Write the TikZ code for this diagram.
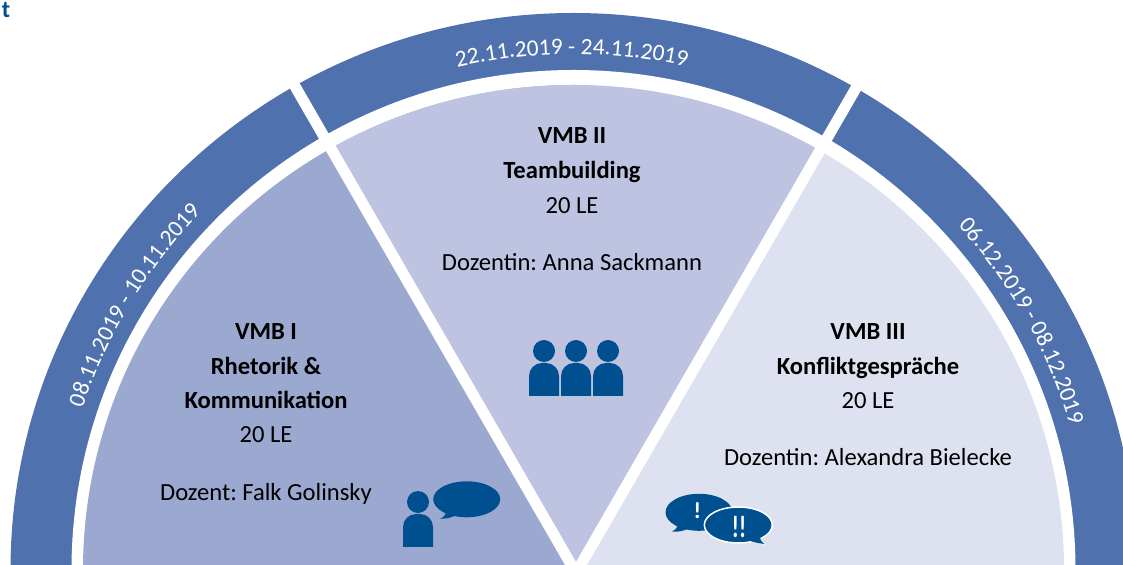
\documentclass[tikz,border=0pt]{standalone}
\usepackage{fontspec}
\setmainfont{Carlito}
\usetikzlibrary{decorations.text}
\definecolor{bandblue}{HTML}{4F72AE}
\definecolor{iconblue}{HTML}{00508F}
\definecolor{sectorone}{HTML}{9BA8D0}
\definecolor{sectortwo}{HTML}{BEC3E1}
\definecolor{sectorthree}{HTML}{DEE1F0}
\tikzset{
  linetext/.style={inner sep=0pt,anchor=base,text=black,font=\fontsize{24.6bp}{28bp}\selectfont},
  headtext/.style={linetext,font=\fontsize{24.6bp}{28bp}\selectfont\bfseries},
  marktext/.style={inner sep=0pt,text=white,font=\fontsize{#1}{#1}\selectfont\bfseries},
  datearc/.style={decorate,decoration={text along path,text align=center,
    text={|\fontsize{23.4bp}{26bp}\selectfont\color{white}|#1}}},
  persona/.pic={
    \fill [iconblue] (0bp,29bp) circle (11bp);
    \fill [iconblue] (-15bp,-16bp) -- (-15bp,4bp) arc (180:90:13bp) -- (2bp,17bp) arc (90:0:13bp) -- (15bp,-16bp) -- cycle;
  },
}
\begin{document}
\frenchspacing
\begin{tikzpicture}[>=latex,line join=bevel,]
%%
\useasboundingbox (0bp,0bp) rectangle (1123bp,565bp);
\clip (0bp,0bp) rectangle (1123bp,565bp);
\coordinate (hub) at (573.5bp,-5bp);
\coordinate (tip) at (576bp,-8bp);
%%
\fill [bandblue] (hub) ellipse (563bp and 557bp);
\fill [white] (hub) ellipse (502bp and 500bp);
\begin{scope}
  \clip (hub) ellipse (490.5bp and 485bp);
  \fill [sectorone] (0bp,-20bp) rectangle (576bp,565bp);
  \fill [sectorthree] (576bp,-20bp) rectangle (1123bp,565bp);
  \fill [sectortwo] (tip) -- ++(120:700bp) -- ++(0:700bp) -- cycle;
\end{scope}
\draw [white,line width=11bp] (tip) -- ++(120:660bp);
\draw [white,line width=11bp] (tip) -- ++(60:660bp);
%%
\path [datearc={08.11.2019 - 10.11.2019}] ([shift={(hub)}]173.9:517bp and 516bp) arc (173.9:123.9:517bp and 516bp);
\path [datearc={22.11.2019 - 24.11.2019}] ([shift={(hub)}]115.2:517bp and 516bp) arc (115.2:65.2:517bp and 516bp);
\path [datearc={06.12.2019 - 08.12.2019}] ([shift={(hub)}]54.1:517bp and 516bp) arc (54.1:4.1:517bp and 516bp);
%%
\node (node_corner) at (6bp,555bp) [inner sep=0pt,text=iconblue,font=\fontsize{24bp}{26bp}\selectfont\bfseries] {t};
%
\node (node_one_a) at (266bp,225bp) [headtext] {VMB I};
\node (node_one_b) at (266bp,190bp) [headtext] {Rhetorik \&};
\node (node_one_c) at (266bp,156bp) [headtext] {Kommunikation};
\node (node_one_d) at (266bp,122bp) [linetext] {20 LE};
\node (node_one_e) at (266bp,64bp) [linetext] {Dozent: Falk Golinsky};
%
\node (node_two_a) at (572bp,421bp) [headtext] {VMB II};
\node (node_two_b) at (572bp,386bp) [headtext] {Teambuilding};
\node (node_two_c) at (572bp,351bp) [linetext] {20 LE};
\node (node_two_d) at (572bp,294bp) [linetext] {Dozentin: Anna Sackmann};
%
\node (node_three_a) at (868bp,225bp) [headtext] {VMB III};
\node (node_three_b) at (868bp,190bp) [headtext] {Konfliktgespräche};
\node (node_three_c) at (868bp,156bp) [linetext] {20 LE};
\node (node_three_d) at (868bp,99bp) [linetext] {Dozentin: Alexandra Bielecke};
%%
\pic at (544bp,185bp) {persona};
\pic at (576bp,185bp) {persona};
\pic at (608bp,185bp) {persona};
\pic at (418bp,34bp) {persona};
%%
\fill [iconblue] (466.7bp,65.7bp) ellipse (33.5bp and 18bp);
\fill [iconblue] (446bp,54bp) .. controls (446bp,50bp) and (443bp,47bp) .. (439.3bp,46.3bp) .. controls (446bp,46bp) and (451bp,47bp) .. (456bp,50bp) -- cycle;
%
\fill [iconblue] (699bp,52.7bp) ellipse (33.5bp and 18.5bp);
\fill [iconblue] (678bp,41bp) .. controls (677bp,37bp) and (675bp,34.5bp) .. (672bp,33.3bp) .. controls (679bp,33bp) and (684bp,34bp) .. (689bp,37bp) -- cycle;
\fill [white] (764.5bp,19.5bp) -- (756bp,28bp) -- (744bp,30bp) -- cycle;
\draw [white,line width=1.5bp,fill=iconblue] (738.3bp,40bp) ellipse (34bp and 18bp);
\fill [iconblue] (760bp,29bp) .. controls (760bp,25bp) and (761.5bp,23bp) .. (764bp,21bp) .. controls (758bp,22bp) and (752bp,23bp) .. (748bp,25bp) -- cycle;
\node (node_mark_a) at (697.3bp,54bp) [marktext=23bp] {!};
\node (node_mark_b) at (739bp,38bp) [marktext=31bp,xscale=.7,transform shape] {!!};
%
\end{tikzpicture}
\end{document}
